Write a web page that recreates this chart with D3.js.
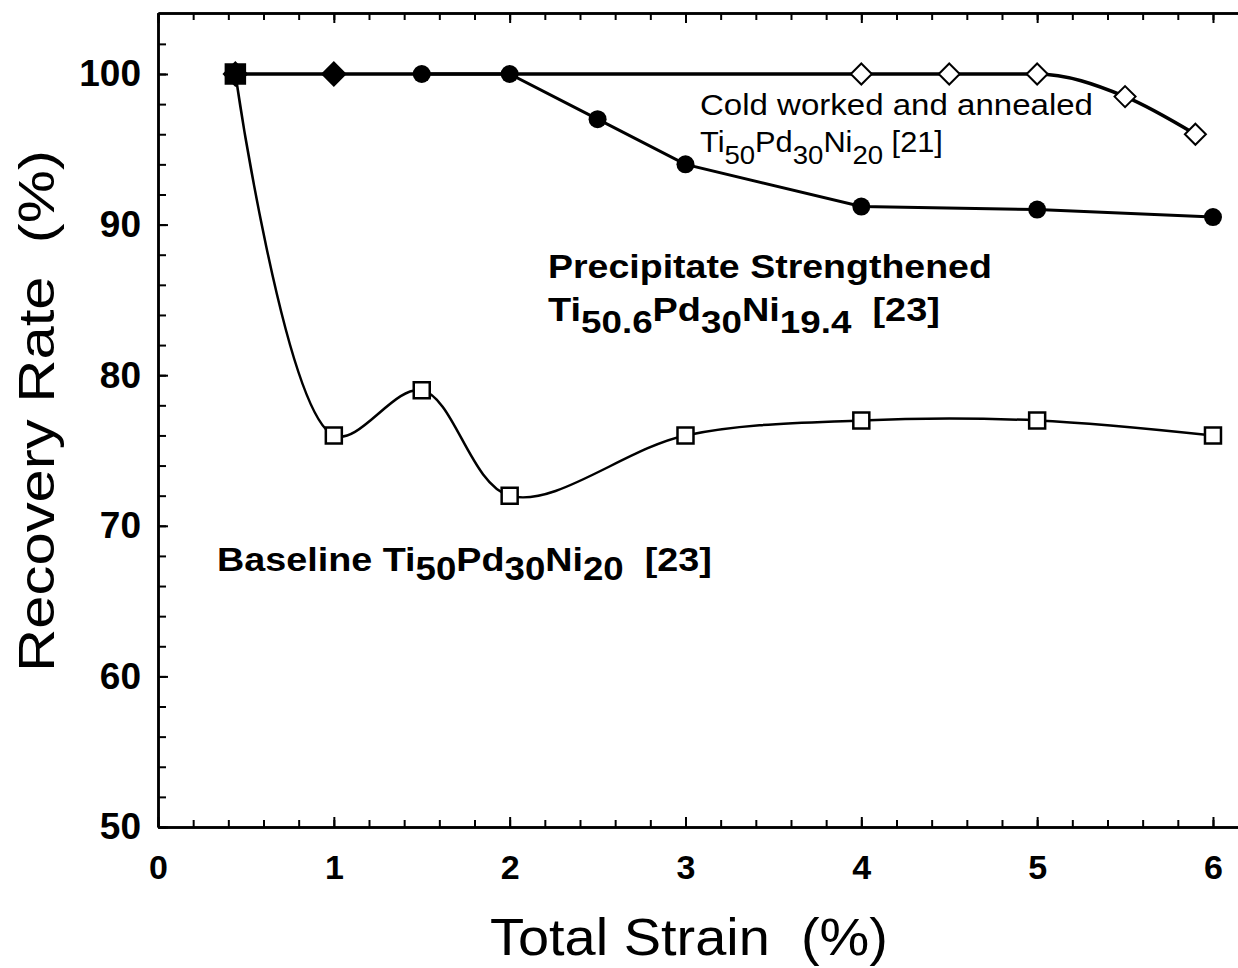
<!DOCTYPE html>
<html>
<head>
<meta charset="utf-8">
<script src="https://cdn.jsdelivr.net/npm/d3@7"></script>
<style>
  body { margin: 0; background: #fff; }
  svg { display: block; }
</style>
</head>
<body>
<div id="chart"></div>
<script>
// Datos
const strainBaseline = [0.44, 1, 1.5, 2, 3, 4, 5, 6];
const rateBaseline = [100, 76, 79, 72, 76, 77, 77, 76];

const strainPrecip = [1.5, 2, 2.5, 3, 4, 5, 6];
const ratePrecip = [100, 100, 97, 94, 91.2, 91, 90.5];

const strainCold = [0.44, 1, 4, 4.5, 5, 5.5, 5.9];
const rateCold = [100, 100, 100, 100, 100, 98.5, 96];

const xTickValues = [0, 1, 2, 3, 4, 5, 6];
const yTickValues = [50, 60, 70, 80, 90, 100];

// Etiquetas: [texto, tipo] ; tipo 'n' normal, 's' subíndice
const labelCold1 = [['Cold worked and annealed', 'n']];
const labelCold2 = [['Ti', 'n'], ['50', 's'], ['Pd', 'n'], ['30', 's'], ['Ni', 'n'], ['20', 's'], [' [21]', 'n']];
const labelPrecip1 = [['Precipitate Strengthened', 'n']];
const labelPrecip2 = [['Ti', 'n'], ['50.6', 's'], ['Pd', 'n'], ['30', 's'], ['Ni', 'n'], ['19.4', 's'], ['  [23]', 'n']];
const labelBase = [['Baseline Ti', 'n'], ['50', 's'], ['Pd', 'n'], ['30', 's'], ['Ni', 'n'], ['20', 's'], ['  [23]', 'n']];

const FONT = 'Liberation Sans, Arial, Helvetica, sans-serif';

const W = 1238, H = 968;
const svg = d3.select('#chart').append('svg')
	.attr('width', W)
	.attr('height', H)
	.style('background', '#fff');

// Escalas
const x = d3.scaleLinear().domain([0, 6.2]).range([158, 158 + 6.2 * 175.83]);
const y = d3.scaleLinear().domain([50, 104.05]).range([827, 13]);

const minorX = d3.range(0, 6.21, 0.2).map((d) => +d.toFixed(1));
const minorY = d3.range(50, 104, 2);

// Ejes (ticks hacia dentro)
function styleAxis(g) {
	g.select('.domain').attr('stroke', '#000').attr('stroke-width', 2.5);
	g.selectAll('.tick line').attr('stroke', '#000').attr('stroke-width', 2);
}

svg.append('g')
	.attr('transform', `translate(0,${y(50)})`)
	.call(d3.axisBottom(x).tickValues(minorX).tickSizeInner(-7).tickSizeOuter(0).tickFormat(''))
	.call(styleAxis);

const xAxis = svg.append('g')
	.attr('transform', `translate(0,${y(50)})`)
	.call(d3.axisBottom(x).tickValues(xTickValues).tickSizeInner(-10).tickSizeOuter(0).tickPadding(28).tickFormat(d3.format('d')))
	.call(styleAxis);
xAxis.selectAll('text')
	.attr('fill', '#000')
	.style('font-family', FONT)
	.style('font-weight', 'bold')
	.style('font-size', '34px');

svg.append('g')
	.attr('transform', `translate(0,${y(104.05)})`)
	.call(d3.axisTop(x).tickValues(minorX).tickSizeInner(-7).tickSizeOuter(0).tickFormat(''))
	.call(styleAxis);
svg.append('g')
	.attr('transform', `translate(0,${y(104.05)})`)
	.call(d3.axisTop(x).tickValues(xTickValues).tickSizeInner(-10).tickSizeOuter(0).tickFormat(''))
	.call(styleAxis);

svg.append('g')
	.attr('transform', `translate(${x(0)},0)`)
	.call(d3.axisLeft(y).tickValues(minorY).tickSizeInner(-8).tickSizeOuter(0).tickFormat(''))
	.call(styleAxis);

const yAxis = svg.append('g')
	.attr('transform', `translate(${x(0)},0)`)
	.call(d3.axisLeft(y).tickValues(yTickValues).tickSizeInner(-10).tickSizeOuter(0).tickPadding(17).tickFormat(d3.format('d')))
	.call(styleAxis);
yAxis.selectAll('text')
	.attr('fill', '#000')
	.style('font-family', FONT)
	.style('font-weight', 'bold')
	.style('font-size', '37px');

// Borde derecho (fuera de la imagen)
svg.append('line')
	.attr('x1', x(6.2)).attr('x2', x(6.2))
	.attr('y1', y(50)).attr('y2', y(104.05))
	.attr('stroke', '#000').attr('stroke-width', 2.5);

// Series
const zip = (xs, ys) => xs.map((v, i) => [v, ys[i]]);
const dataBaseline = zip(strainBaseline, rateBaseline);
const dataPrecip = zip(strainPrecip, ratePrecip);
const dataCold = zip(strainCold, rateCold);

const smooth = d3.line().x((d) => x(d[0])).y((d) => y(d[1])).curve(d3.curveCatmullRom.alpha(0.5));
const monotone = d3.line().x((d) => x(d[0])).y((d) => y(d[1])).curve(d3.curveMonotoneX);
const straight = d3.line().x((d) => x(d[0])).y((d) => y(d[1]));

svg.append('path').datum(dataBaseline)
	.attr('fill', 'none').attr('stroke', '#000').attr('stroke-width', 2.5)
	.attr('d', smooth);
svg.append('path').datum(dataPrecip)
	.attr('fill', 'none').attr('stroke', '#000').attr('stroke-width', 3)
	.attr('d', straight);
svg.append('path').datum(dataCold)
	.attr('fill', 'none').attr('stroke', '#000').attr('stroke-width', 3.5)
	.attr('d', monotone);

// Marcadores
const squarePath = (s) => `M${-s},${-s}H${s}V${s}H${-s}Z`;
const diamondPath = (s) => `M0,${-s}L${s},0L0,${s}L${-s},0Z`;

svg.append('g').selectAll('path').data(dataBaseline).join('path')
	.attr('transform', (d) => `translate(${x(d[0])},${y(d[1])})`)
	.attr('d', (d, i) => squarePath(i === 0 ? 9.5 : 8))
	.attr('fill', (d, i) => (i === 0 ? '#000' : '#fff'))
	.attr('stroke', '#000').attr('stroke-width', 2.5);

svg.append('g').selectAll('path').data(dataCold).join('path')
	.attr('transform', (d) => `translate(${x(d[0])},${y(d[1])})`)
	.attr('d', (d) => diamondPath(d[0] < 2 ? 11.5 : 10.5))
	.attr('fill', (d) => (d[0] < 2 ? '#000' : '#fff'))
	.attr('stroke', '#000').attr('stroke-width', 2);

// el cuadrado inicial queda encima
svg.append('path')
	.attr('transform', `translate(${x(dataBaseline[0][0])},${y(dataBaseline[0][1])})`)
	.attr('d', squarePath(9.5))
	.attr('fill', '#000');

svg.append('g').selectAll('circle').data(dataPrecip).join('circle')
	.attr('cx', (d) => x(d[0]))
	.attr('cy', (d) => y(d[1]))
	.attr('r', 9)
	.attr('fill', '#000');

// Texto con subíndices, estirado horizontalmente al ancho medido
function drawLabel(segments, x0, y0, width, opt) {
	const t = svg.append('text')
		.attr('fill', '#000')
		.attr('xml:space', 'preserve')
		.style('font-family', FONT)
		.style('font-weight', opt.weight)
		.style('font-size', opt.size + 'px');
	let shifted = false;
	segments.forEach(([txt, kind]) => {
		const ts = t.append('tspan').text(txt).style('white-space', 'pre');
		if (kind === 's') {
			ts.style('font-size', opt.subSize + 'px');
			if (opt.subFamily) ts.style('font-family', opt.subFamily);
			if (!shifted) ts.attr('dy', opt.subShift);
			shifted = true;
		} else if (shifted) {
			ts.attr('dy', -opt.subShift);
			shifted = false;
		}
	});
	const w = t.node().getBBox().width;
	const k = width / w;
	t.attr('transform', `translate(${x0},${y0}) scale(${k},1)`);
}

drawLabel(labelCold1, 700, 115, 393, { size: 29, weight: 'normal' });
drawLabel(labelCold2, 700, 152, 243, {
	size: 29, weight: 'normal', subSize: 26, subShift: 12,
	subFamily: 'Liberation Sans Narrow, Arial Narrow, Liberation Sans, sans-serif',
});
drawLabel(labelPrecip1, 548, 278, 444, { size: 33, weight: 'bold' });
drawLabel(labelPrecip2, 548, 321, 392, { size: 33, weight: 'bold', subSize: 32, subShift: 12 });
drawLabel(labelBase, 217, 571, 495, { size: 34, weight: 'bold', subSize: 33, subShift: 9 });

// Títulos de ejes
const xTitle = svg.append('text')
	.attr('fill', '#000')
	.attr('xml:space', 'preserve')
	.style('font-family', FONT)
	.style('font-size', '51px')
	.text('Total Strain  (%)');
{
	const w = xTitle.node().getBBox().width;
	xTitle.attr('transform', `translate(490,955) scale(${398 / w},1)`);
}

const yTitle = svg.append('text')
	.attr('fill', '#000')
	.attr('xml:space', 'preserve')
	.style('font-family', FONT)
	.style('font-size', '50px')
	.text('Recovery Rate  (%)');
{
	const w = yTitle.node().getBBox().width;
	yTitle.attr('transform', `translate(54,672) rotate(-90) scale(${522 / w},1)`);
}
</script>
</body>
</html>
